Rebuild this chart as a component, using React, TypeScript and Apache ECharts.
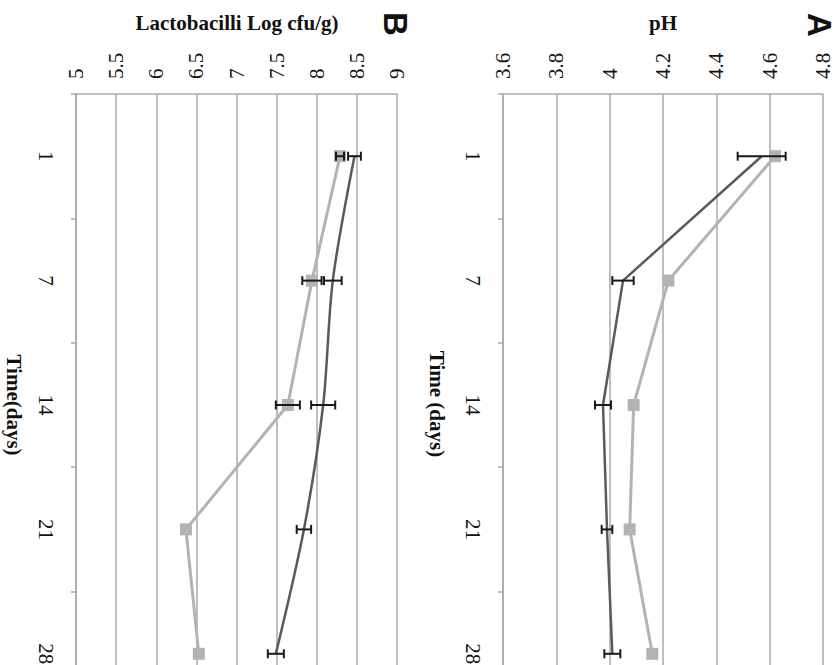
import React, { useEffect, useRef } from "react";
import * as echarts from "echarts";

const days = ["1", "7", "14", "21", "28"];

// Panel A: pH
const phDark = [4.57, 4.05, 3.975, 3.99, 4.01];
const phDarkErr = [0.09, 0.04, 0.03, 0.02, 0.03];
const phLight = [4.62, 4.22, 4.09, 4.075, 4.16];

// Panel B: Lactobacilli log cfu/g
const lacDark = [8.47, 8.2, 8.08, 7.84, 7.49];
const lacDarkErr = [0.08, 0.11, 0.15, 0.09, 0.1];
const lacLight = [8.29, 7.94, 7.64, 6.37, 6.53];
const lacLightErr = [0.05, 0.12, 0.15, 0, 0];

const phTicks = { min: 3.6, max: 4.8, interval: 0.2 };
const lacTicks = { min: 5, max: 9, interval: 0.5 };

const SERIF = "'Liberation Serif', 'Times New Roman', serif";
const GRID_COLOR = "#a9a9a9";
const DARK = "#5a5a5a";
const LIGHT = "#b3b3b3";

function errData(vals: number[], errs: number[]) {
  return vals
    .map((v, i) => [v - errs[i], v + errs[i], i])
    .filter((d) => d[1] - d[0] > 0);
}

function errorSeries(xi: number, data: number[][]) {
  return {
    type: "custom",
    xAxisIndex: xi,
    yAxisIndex: xi,
    z: 5,
    encode: { x: [0, 1], y: 2 },
    data,
    renderItem: (params: any, api: any) => {
      const lo = api.coord([api.value(0), api.value(2)]);
      const hi = api.coord([api.value(1), api.value(2)]);
      const cap = 4.5;
      const style = { stroke: "#1a1a1a", lineWidth: 2 };
      return {
        type: "group",
        children: [
          { type: "line", shape: { x1: lo[0], y1: lo[1], x2: hi[0], y2: hi[1] }, style },
          { type: "line", shape: { x1: lo[0], y1: lo[1] - cap, x2: lo[0], y2: lo[1] + cap }, style },
          { type: "line", shape: { x1: hi[0], y1: hi[1] - cap, x2: hi[0], y2: hi[1] + cap }, style },
        ],
      };
    },
  };
}

function valueAxis(gi: number, t: { min: number; max: number; interval: number }) {
  return {
    type: "value",
    gridIndex: gi,
    position: "top",
    min: t.min,
    max: t.max,
    interval: t.interval,
    axisLine: { show: true, lineStyle: { color: GRID_COLOR, width: 1.5 } },
    axisTick: { show: false },
    splitLine: { show: true, lineStyle: { color: GRID_COLOR, width: 1.5 } },
    axisLabel: {
      rotate: -90,
      margin: 15,
      color: "#111",
      fontFamily: SERIF,
      fontSize: 21,
    },
  };
}

function catAxis(gi: number) {
  return {
    type: "category",
    gridIndex: gi,
    inverse: true,
    data: days,
    boundaryGap: true,
    axisLine: { show: true, lineStyle: { color: GRID_COLOR, width: 1.5 } },
    axisTick: { show: true, length: 5, lineStyle: { color: GRID_COLOR, width: 1.5 } },
    axisLabel: {
      rotate: -90,
      margin: 20,
      color: "#111",
      fontFamily: SERIF,
      fontSize: 21,
    },
  };
}

function rotText(text: string, x: number, y: number, size: number, family: string, weight: any) {
  return {
    type: "text",
    x,
    y,
    rotation: -Math.PI / 2,
    style: {
      text,
      fill: "#111",
      fontFamily: family,
      fontSize: size,
      fontWeight: weight,
      align: "center",
      verticalAlign: "middle",
    },
  };
}

function uprightText(text: string, x: number, y: number) {
  return {
    type: "text",
    x,
    y,
    style: {
      text,
      fill: "#111",
      fontFamily: SERIF,
      fontSize: 21,
      fontWeight: "bold",
      align: "center",
      verticalAlign: "middle",
    },
  };
}

export default function App() {
  const ref = useRef<HTMLDivElement>(null);
  useEffect(() => {
    if (!ref.current) return;
    const chart = echarts.init(ref.current, null, { renderer: "svg" });
    chart.setOption({
      animation: false,
      backgroundColor: "#ffffff",
      grid: [
        { left: 76, width: 321, top: 94, height: 622 },
        { left: 503, width: 320, top: 94, height: 622 },
      ],
      xAxis: [valueAxis(0, lacTicks), valueAxis(1, phTicks)],
      yAxis: [catAxis(0), catAxis(1)],
      graphic: [
        uprightText("Lactobacilli Log cfu/g)", 237, 23),
        uprightText("pH", 663, 23),
        rotText("B", 395, 24, 33, "'Liberation Sans', Arial, sans-serif", 900),
        rotText("A", 819, 25, 33, "'Liberation Sans', Arial, sans-serif", 900),
        rotText("Time(days)", 14, 405, 21, SERIF, "bold"),
        rotText("Time (days)", 437, 404, 21, SERIF, "bold"),
      ],
      series: [
        {
          type: "line",
          xAxisIndex: 0,
          yAxisIndex: 0,
          data: lacDark.map((v, i) => [v, days[i]]),
          smooth: 0.3,
          showSymbol: false,
          symbol: "none",
          lineStyle: { color: DARK, width: 2.5 },
          z: 3,
        },
        {
          type: "line",
          xAxisIndex: 0,
          yAxisIndex: 0,
          data: lacLight.map((v, i) => [v, days[i]]),
          symbol: "rect",
          symbolSize: 12,
          itemStyle: { color: LIGHT },
          lineStyle: { color: LIGHT, width: 3 },
          z: 3,
        },
        errorSeries(0, errData(lacDark, lacDarkErr)),
        errorSeries(0, errData(lacLight, lacLightErr)),
        {
          type: "line",
          xAxisIndex: 1,
          yAxisIndex: 1,
          data: phDark.map((v, i) => [v, days[i]]),
          showSymbol: false,
          symbol: "none",
          lineStyle: { color: DARK, width: 2.5 },
          z: 3,
        },
        {
          type: "line",
          xAxisIndex: 1,
          yAxisIndex: 1,
          data: phLight.map((v, i) => [v, days[i]]),
          symbol: "rect",
          symbolSize: 12,
          itemStyle: { color: LIGHT },
          lineStyle: { color: LIGHT, width: 3 },
          z: 3,
        },
        errorSeries(1, errData(phDark, phDarkErr)),
      ],
    });
    return () => chart.dispose();
  }, []);
  return (
    <div
      style={{
        position: "fixed",
        left: 0,
        top: 0,
        width: 838,
        height: 665,
        overflow: "hidden",
        background: "#fff",
      }}
    >
      <div ref={ref} style={{ width: 838, height: 730 }} />
    </div>
  );
}
